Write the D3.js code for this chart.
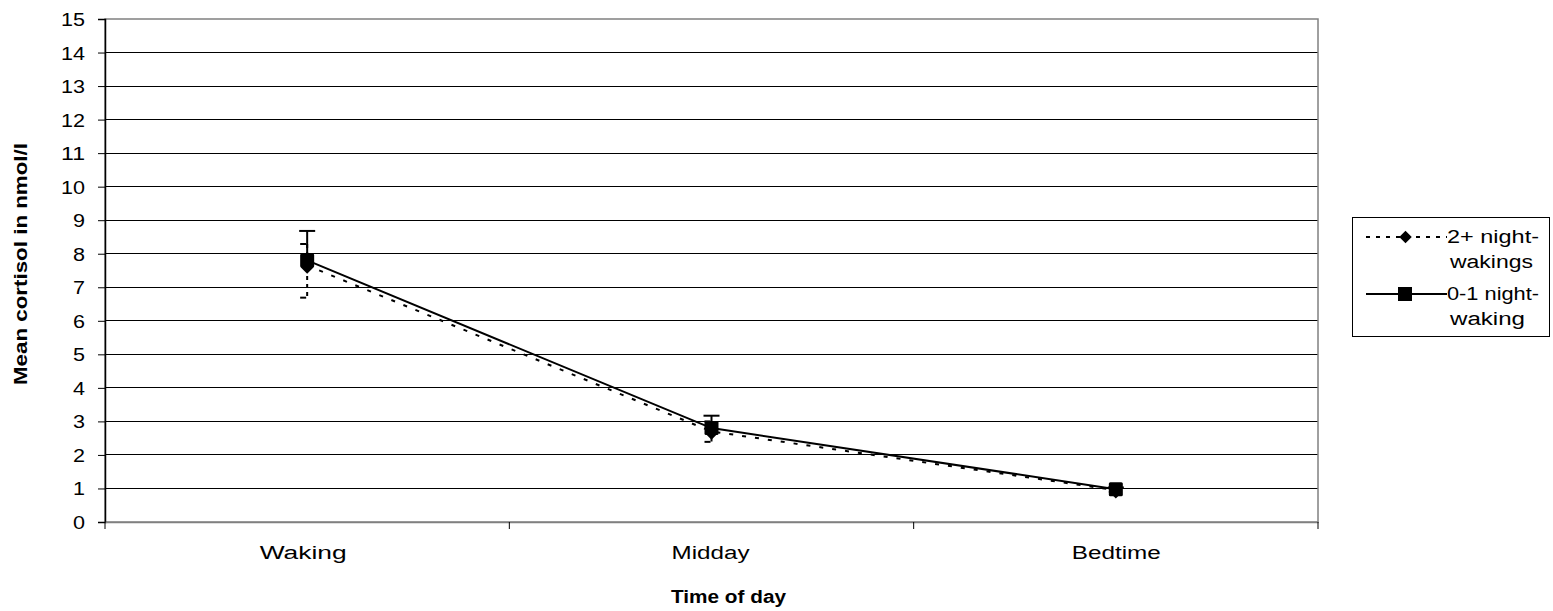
<!DOCTYPE html>
<html><head><meta charset="utf-8">
<script src="https://cdn.jsdelivr.net/npm/d3@7"></script>
<style>body{margin:0;background:#fff}svg{display:block}text{font-family:"Liberation Sans",Arial,sans-serif;fill:#000}</style>
</head><body>
<svg id="c" width="1553" height="611"></svg>
<script>
const categories = ["Waking", "Midday", "Bedtime"];
const yTicks = [0,1,2,3,4,5,6,7,8,9,10,11,12,13,14,15];
const seriesNames = ["2+ night-wakings", "0-1 night-waking"];
const many = [7.65, 2.7, 0.95];        // 2+ night-wakings
const manyErrUp = [0.64, 0.3, 0.05];
const manyErrDown = [0.96, 0.31, 0.05];
const few = [7.8, 2.8, 0.98];          // 0-1 night-waking
const fewErrUp = [0.88, 0.37, 0.05];

const svg = d3.select("#c");
const L = 105, R = 1318, T = 19, B = 522;
const x = d3.scaleBand().domain(categories).range([L, R]);
const y = d3.scaleLinear().domain([0, 15]).range([B, T]);
const cx = c => x(c) + x.bandwidth() / 2;
const FS = "18px";

// gridlines
svg.append("g").selectAll("line").data(yTicks.filter(d => d > 0 && d < 15)).join("line")
  .attr("x1", L).attr("x2", R).attr("y1", d => y(d)).attr("y2", d => y(d))
  .attr("stroke", "#000").attr("stroke-width", 1).attr("shape-rendering", "crispEdges");
// plot border
svg.append("rect").attr("x", L).attr("y", y(15)).attr("width", R - L).attr("height", B - y(15))
  .attr("fill", "none").attr("stroke", "#808080").attr("stroke-width", 1.5);

// y axis
const ya = svg.append("g").attr("transform", `translate(${L},0)`)
  .call(d3.axisLeft(y).tickValues(yTicks).tickSize(7).tickPadding(13).tickFormat(d3.format("d")));
ya.select(".domain").attr("stroke", "#000").attr("stroke-width", 1.5);
ya.selectAll(".tick line").attr("stroke", "#000");
ya.selectAll("text").style("font-size", FS).attr("font-family", "Liberation Sans, Arial, sans-serif")
  .attr("dy", "0.36em")
  .attr("textLength", d => String(d).length * 12).attr("lengthAdjust", "spacingAndGlyphs");

// x axis
const xa = svg.append("g").attr("transform", `translate(0,${B})`)
  .call(d3.axisBottom(x).tickSize(0).tickPadding(0));
xa.select(".domain").attr("stroke", "#808080").attr("stroke-width", 1.5);
xa.selectAll("text").remove();
const catWidths = [87, 78, 89];
const catShift = [-4, -1, 0.5];
svg.append("g").selectAll("text").data(categories).join("text")
  .attr("x", (d, i) => cx(d) + catShift[i]).attr("y", 559).attr("text-anchor", "middle")
  .style("font-size", FS).attr("textLength", (d, i) => catWidths[i]).attr("lengthAdjust", "spacingAndGlyphs")
  .text(d => d);
const bounds = [L].concat(categories.map(c => x(c) + x.bandwidth()));
svg.append("g").selectAll("line").data(bounds).join("line")
  .attr("x1", d => d).attr("x2", d => d).attr("y1", B).attr("y2", B + 7)
  .attr("stroke", "#000").attr("stroke-width", 1);

// titles
svg.append("text").attr("x", 728.5).attr("y", 603).attr("text-anchor", "middle")
  .style("font-size", FS).style("font-weight", "bold")
  .attr("textLength", 115).attr("lengthAdjust", "spacingAndGlyphs").text("Time of day");
svg.append("text").attr("transform", `translate(27,264) rotate(-90)`).attr("text-anchor", "middle")
  .style("font-size", FS).style("font-weight", "bold")
  .attr("textLength", 242).attr("lengthAdjust", "spacingAndGlyphs").text("Mean cortisol in nmol/l");

const line = d3.line().x((d, i) => cx(categories[i])).y(d => y(d));

// error bars 2+ (dashed)
const gE = svg.append("g");
many.forEach((v, i) => {
  const c = cx(categories[i]);
  gE.append("line").attr("x1", c).attr("x2", c).attr("y1", y(v + manyErrUp[i])).attr("y2", y(v - manyErrDown[i]))
    .attr("stroke", "#000").attr("stroke-width", 2).attr("stroke-dasharray", "4,4");
  [v + manyErrUp[i], v - manyErrDown[i]].forEach(e => {
    gE.append("line").attr("x1", c - 7).attr("x2", c - 1).attr("y1", y(e)).attr("y2", y(e))
      .attr("stroke", "#000").attr("stroke-width", 2);
  });
});
few.forEach((v, i) => {
  const c = cx(categories[i]);
  gE.append("line").attr("x1", c).attr("x2", c).attr("y1", y(v + fewErrUp[i])).attr("y2", y(v))
    .attr("stroke", "#000").attr("stroke-width", 2);
  gE.append("line").attr("x1", c - 8).attr("x2", c + 8).attr("y1", y(v + fewErrUp[i])).attr("y2", y(v + fewErrUp[i]))
    .attr("stroke", "#000").attr("stroke-width", 2);
});

// series lines
svg.append("path").datum(many).attr("d", line).attr("fill", "none").attr("stroke", "#000")
  .attr("stroke-width", 2).attr("stroke-dasharray", "4,9");
svg.append("path").datum(few).attr("d", line).attr("fill", "none").attr("stroke", "#000").attr("stroke-width", 2);

const diamond = d3.symbol().type(d3.symbolDiamond2).size(100);
svg.append("g").selectAll("path").data(many).join("path")
  .attr("d", diamond).attr("transform", (d, i) => `translate(${cx(categories[i])},${y(d) + 2})`)
  .attr("fill", "#000");
svg.append("g").selectAll("rect").data(few).join("rect")
  .attr("x", (d, i) => cx(categories[i]) - 7).attr("y", d => y(d) - 7).attr("width", 14).attr("height", 14)
  .attr("rx", 1.5).attr("fill", "#000");

// legend
const lg = svg.append("g");
lg.append("rect").attr("x", 1352.5).attr("y", 217.5).attr("width", 197).attr("height", 119)
  .attr("fill", "#fff").attr("stroke", "#000").attr("stroke-width", 1);
const rows = [{y: 237, base: 243, dash: "4,6", name: ["2+ night-", "wakings"], w: [92, 83], sym: "d"},
              {y: 294, base: 299.5, dash: null, name: ["0-1 night-", "waking"], w: [92, 75], sym: "s"}];
rows.forEach(r => {
  const l = lg.append("line").attr("x1", 1366).attr("x2", 1447).attr("y1", r.y).attr("y2", r.y)
    .attr("stroke", "#000").attr("stroke-width", 2);
  if (r.dash) l.attr("stroke-dasharray", r.dash);
  if (r.sym === "d") lg.append("path").attr("d", diamond).attr("transform", `translate(1405.5,${r.y})`).attr("fill", "#000");
  else lg.append("rect").attr("x", 1398).attr("y", r.y - 7).attr("width", 14).attr("height", 14).attr("fill", "#000");
  r.name.forEach((t, k) => lg.append("text").attr("x", k === 0 ? 1447 : 1450).attr("y", r.base + k * 25)
    .style("font-size", FS).attr("textLength", r.w[k]).attr("lengthAdjust", "spacingAndGlyphs").text(t));
});
</script>
</body></html>
